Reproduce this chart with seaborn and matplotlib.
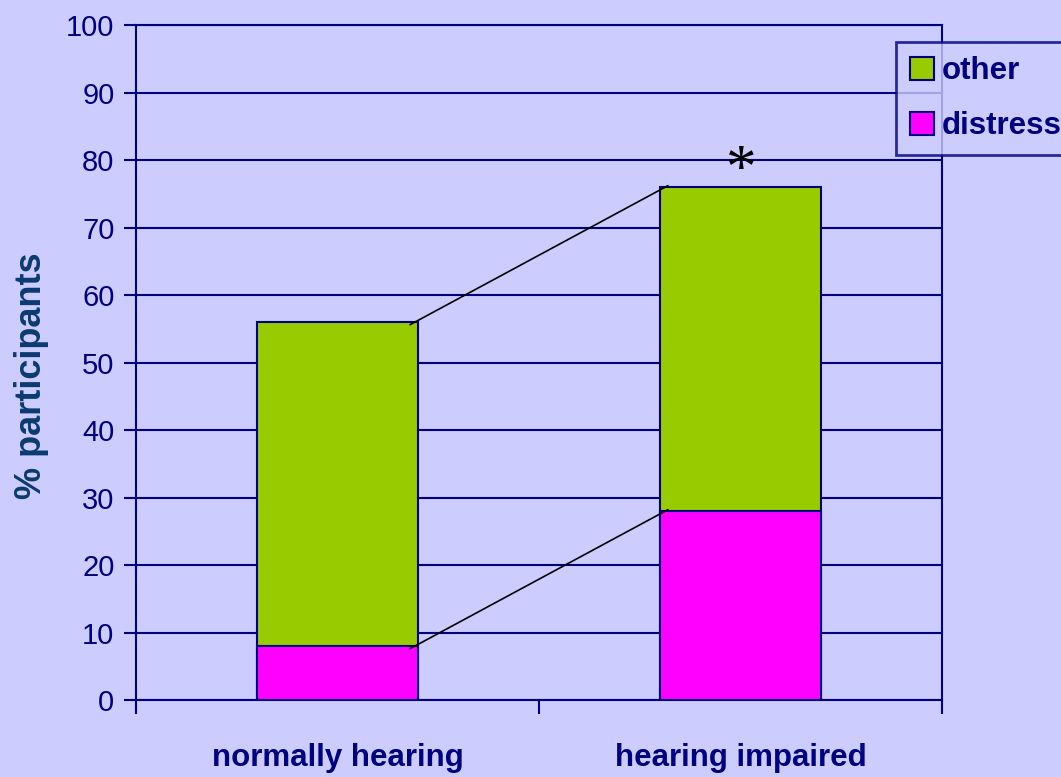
import pandas as pd
import seaborn as sns
import matplotlib.pyplot as plt
from matplotlib.patches import Patch

# datos
grupos = ["normally hearing", "hearing impaired"]
distress = [8, 28]
other = [48, 48]
total = [d + o for d, o in zip(distress, other)]

navy = "#000080"
fondo = "#CCCCFF"
verde = "#99CC00"
magenta = "#FF00FF"

df = pd.DataFrame({"grupo": grupos, "distress": distress, "total": total})

sns.set_style("white")
plt.rcParams["font.family"] = ["Liberation Sans", "DejaVu Sans"]

fig = plt.figure(figsize=(10.61, 7.77), dpi=100, facecolor=fondo)
ax = fig.add_axes([0.1282, 0.0991, 0.7596, 0.8687])
ax.set_facecolor(fondo)

# barras apiladas: total (verde) debajo, distress (magenta) encima
sns.barplot(x="grupo", y="total", data=df, color=verde, width=0.4,
            edgecolor=navy, linewidth=1.5, saturation=1, ax=ax, zorder=3)
sns.barplot(x="grupo", y="distress", data=df, color=magenta, width=0.4,
            edgecolor=navy, linewidth=1.5, saturation=1, ax=ax, zorder=3)

# lineas de serie entre barras
for serie in [total, distress]:
    ax.plot([0.18, 0.82], [serie[0] - 0.4, serie[1] + 0.2], color="black",
            lw=1.2, zorder=4)

# asterisco de significacion
ax.text(1, total[1] + 2.4, "*", ha="center", va="center", fontsize=44,
        family="Liberation Serif", color="black")

ax.set_xlim(-0.5, 1.5)
ax.set_ylim(0, 100)
ax.set_yticks(range(0, 101, 10))
ax.yaxis.grid(True, color=navy, lw=1.5, zorder=0)
ax.set_axisbelow(True)

ax.set_xticks([0, 1])
ax.set_xticklabels(grupos, fontsize=22.5, fontweight="bold", color=navy)
ax.set_xticks([-0.5, 0.5, 1.5], minor=True)
ax.tick_params(axis="x", which="major", length=0, pad=31)
ax.tick_params(axis="x", which="minor", length=10, width=1.5, color=navy,
               direction="out")
ax.tick_params(axis="y", length=9, width=1.5, color=navy, labelcolor=navy,
               labelsize=21, direction="out", pad=6.5)
ax.tick_params(left=True, bottom=True, which="both")

for s in ax.spines.values():
    s.set_color(navy)
    s.set_linewidth(1.5)

ax.set_xlabel("")
ax.set_ylabel("% participants", fontsize=26, fontweight="bold", color="#0A3A70")
ax.yaxis.set_label_coords(-0.108, 0.48)

handles = [Patch(facecolor=verde, edgecolor=navy, lw=1.5, label="other"),
           Patch(facecolor=magenta, edgecolor=navy, lw=1.5, label="distress")]
leg = fig.legend(handles=handles, loc="upper left", bbox_to_anchor=(0.8445, 0.946),
                 prop={"size": 22.5, "weight": "bold"}, frameon=True, fancybox=False,
                 facecolor=fondo, edgecolor=navy, handlelength=0.75,
                 handleheight=0.75, handletextpad=0.25, borderpad=0.45,
                 labelspacing=0.8, borderaxespad=0)
leg.get_frame().set_linewidth(2)
for t in leg.get_texts():
    t.set_color(navy)

fig.savefig("out.png", dpi=100, facecolor=fondo)
